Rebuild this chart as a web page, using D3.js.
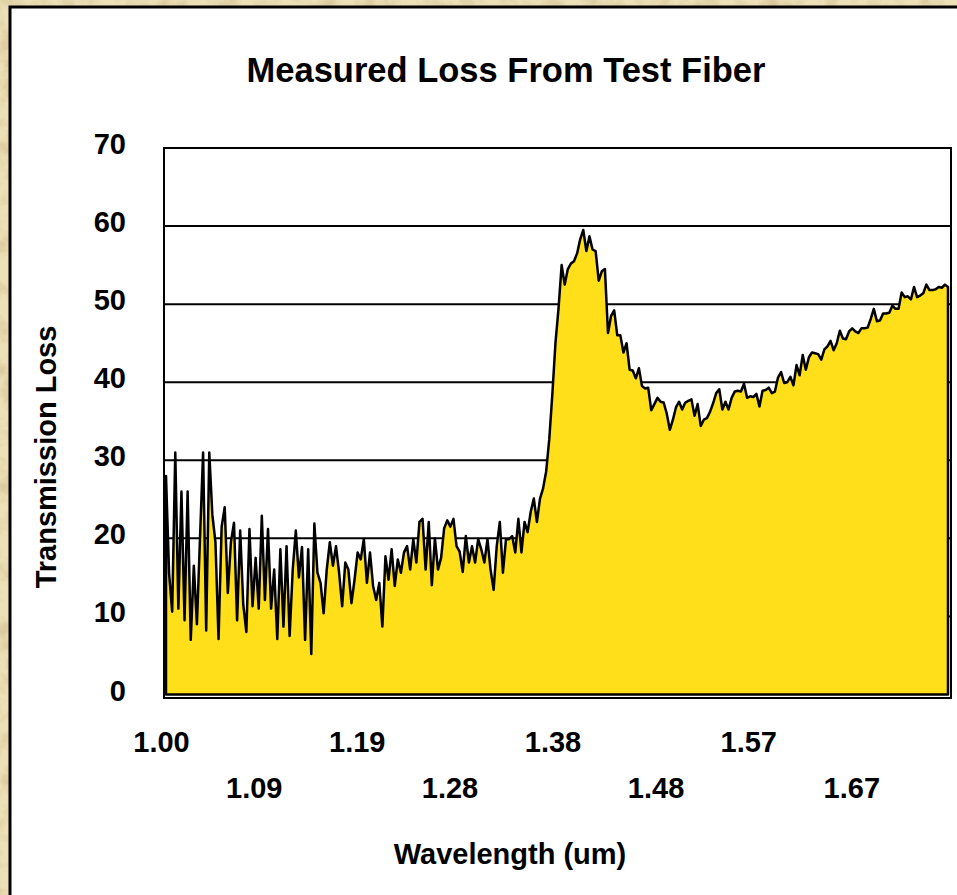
<!DOCTYPE html>
<html>
<head>
<meta charset="utf-8">
<script src="https://cdn.jsdelivr.net/npm/d3@7"></script>
<style>
    html, body { margin: 0; padding: 0; background: #e6d4a4; }
    svg { display: block; font-family: "Liberation Sans", Arial, sans-serif; font-weight: bold; }
</style>
</head>
<body>
<div id="chart"></div>
<script>
// wavelength sampling of the trace (um)
const wlStart = 1.00;
const wlStep = 0.003;

// measured transmission loss, one value per wavelength sample
const loss = [
    28, 15.5, 10.6, 31, 11, 26, 9.5, 26, 7, 16.5,
    9, 20, 31, 8.2, 31, 23, 19.5, 7.1, 21.5, 24,
    13, 19.5, 22, 9.5, 21, 11.5, 8, 21.2, 11.3, 17.5,
    11, 22.9, 12.1, 21.2, 11, 16, 7.1, 18.6, 8.7, 19,
    7.5, 16, 21, 15, 18.9, 7, 18.6, 5.2, 21.9, 15.6,
    14.3, 10.4, 16, 19.5, 16.5, 19, 15.6, 11.3, 16.9, 16,
    11.7, 14.7, 18.2, 17.3, 19.9, 14.3, 18.2, 13.9, 12.1, 14.3,
    8.7, 17.7, 14.7, 18.6, 13.9, 17.3, 15.6, 18.2, 19, 16,
    19.9, 16.9, 22.1, 22.5, 16, 22.1, 14, 20, 16, 17.5,
    21.3, 22.3, 21.5, 22.5, 19, 18.3, 15.7, 20.3, 16.9, 19,
    16.9, 19.9, 18.6, 16.9, 19.9, 16, 13.4, 19, 22.1, 15.6,
    19.9, 19.9, 20.3, 18.2, 22.5, 18.2, 22.1, 20.8, 23.4, 25.1,
    22.1, 25.1, 26.4, 28.6, 32.7, 38.5, 45, 49.5, 55, 52.5,
    54.5, 55.2, 55.5, 56.5, 58.3, 59.5, 56.8, 58.7, 57, 56.8,
    53, 54.2, 54.5, 46.3, 48.5, 49.2, 46, 46, 43.8, 45,
    41.6, 41.5, 40.5, 41.8, 39.5, 39.2, 39.3, 36.4, 37.2, 38,
    37.5, 37.4, 36, 33.9, 35.2, 36.8, 37.5, 36.5, 37.4, 37.6,
    37.8, 35.7, 37.2, 34.4, 35.2, 35.4, 36.2, 37.3, 38.6, 39.1,
    36.5, 37.5, 36.5, 38, 38.8, 38.9, 38.8, 39.8, 38, 38.2,
    38.1, 38.5, 36.9, 38.9, 39, 39.3, 38.6, 38.8, 40.6, 41.3,
    39.9, 40, 40.7, 39.6, 42.2, 40.9, 43.5, 41.6, 43.2, 43.8,
    43.7, 43.6, 42.9, 44.2, 44.6, 45.3, 44.1, 45, 46.6, 45.6,
    45.5, 46.5, 46.9, 46.5, 46.3, 46.9, 46.9, 47, 48.1, 49.4,
    47.8, 47.9, 48.8, 48.8, 48.9, 49.8, 49.4, 49.4, 51.5, 50.9,
    51, 50.6, 52.2, 50.9, 51.1, 51.4, 52.5, 51.8, 51.8, 51.9,
    52.2, 52.1, 52.5, 52.2
];

// axis ticks
const yTicks = [0, 10, 20, 30, 40, 50, 60, 70];
const gridValues = [10, 20, 30, 40, 50, 60];
const xTickValues = [1.00, 1.09, 1.19, 1.28, 1.38, 1.48, 1.57, 1.67];
const xTickLabels = ["1.00", "1.09", "1.19", "1.28", "1.38", "1.48", "1.57", "1.67"];

class LossChart {
    constructor(parentContainer) {
        this.parentContainer = parentContainer;
        this.width = 957;
        this.height = 895;
        this.data = loss.map((v, i) => ({ wl: wlStart + i * wlStep, v: v }));
        this.initVis();
    }

    initVis() {
        let vis = this;

        vis.svg = d3.select("#" + vis.parentContainer)
            .append("svg")
            .attr("width", vis.width)
            .attr("height", vis.height);

        // parchment texture behind the slide panel
        let defs = vis.svg.append("defs");
        let paper = defs.append("filter").attr("id", "paper")
            .attr("x", 0).attr("y", 0).attr("width", "100%").attr("height", "100%");
        paper.append("feTurbulence")
            .attr("type", "fractalNoise")
            .attr("baseFrequency", 0.05)
            .attr("numOctaves", 4)
            .attr("seed", 7);
        paper.append("feColorMatrix")
            .attr("type", "matrix")
            .attr("values", "0 0 0 0 0.62  0 0 0 0 0.5  0 0 0 0 0.26  1.6 0 0 0 -0.7");

        vis.svg.append("rect")
            .attr("width", vis.width).attr("height", vis.height)
            .attr("fill", "#eddfb6");
        vis.svg.append("rect")
            .attr("width", vis.width).attr("height", vis.height)
            .attr("filter", "url(#paper)");

        // white panel, runs off the right and bottom edges
        vis.svg.append("rect")
            .attr("x", 10).attr("y", 7)
            .attr("width", 1000).attr("height", 1000)
            .attr("fill", "#fff")
            .attr("stroke", "#000")
            .attr("stroke-width", 3);

        // scales
        vis.x = d3.scaleLinear()
            .domain([wlStart, wlStart + (loss.length - 1) * wlStep])
            .range([166, 948]);

        vis.y = d3.scaleLinear()
            .domain([0, 70])
            .range([694.5, 148]);

        // gridlines sit behind the area
        vis.svg.selectAll(".grid")
            .data(gridValues)
            .enter()
            .append("line")
            .attr("class", "grid")
            .attr("x1", 164).attr("x2", 951)
            .attr("y1", d => vis.y(d)).attr("y2", d => vis.y(d))
            .attr("stroke", "#000")
            .attr("stroke-width", 2);

        let area = d3.area()
            .x(d => vis.x(d.wl))
            .y0(vis.y(0))
            .y1(d => vis.y(d.v));

        vis.svg.append("path")
            .datum(vis.data)
            .attr("d", area)
            .attr("fill", "#fedf1a")
            .attr("stroke", "#000")
            .attr("stroke-width", 2.5)
            .attr("stroke-linejoin", "round");

        // plot frame
        vis.svg.append("rect")
            .attr("x", 164).attr("y", vis.y(70))
            .attr("width", 787).attr("height", 698 - vis.y(70))
            .attr("fill", "none")
            .attr("stroke", "#000")
            .attr("stroke-width", 2);

        // y axis labels
        let yAxis = d3.axisLeft(vis.y)
            .tickValues(yTicks)
            .tickSize(0)
            .tickPadding(38);

        vis.svg.append("g")
            .attr("transform", "translate(164,0)")
            .call(yAxis)
            .call(g => g.select(".domain").remove())
            .selectAll("text")
            .attr("dy", "0.19em")
            .style("font-size", "29px")
            .style("font-weight", "bold")
            .style("font-family", "'Liberation Sans', Arial, sans-serif")
            .attr("fill", "#000");

        // x axis labels, staggered over two rows
        let xAxis = d3.axisBottom(vis.x)
            .tickValues(xTickValues)
            .tickFormat((d, i) => xTickLabels[i])
            .tickSize(0);

        vis.svg.append("g")
            .attr("transform", "translate(-5,0)")
            .call(xAxis)
            .call(g => g.select(".domain").remove())
            .selectAll("text")
            .attr("y", (d, i) => i % 2 === 0 ? 752 : 798)
            .attr("dy", 0)
            .style("font-size", "29px")
            .style("font-weight", "bold")
            .style("font-family", "'Liberation Sans', Arial, sans-serif")
            .attr("fill", "#000");

        // titles
        vis.svg.append("text")
            .attr("x", 506).attr("y", 82)
            .attr("text-anchor", "middle")
            .style("font-size", "34.5px")
            .text("Measured Loss From Test Fiber");

        vis.svg.append("text")
            .attr("x", 510).attr("y", 864)
            .attr("text-anchor", "middle")
            .style("font-size", "29px")
            .text("Wavelength (um)");

        vis.svg.append("text")
            .attr("transform", "translate(56,457) rotate(-90)")
            .attr("text-anchor", "middle")
            .style("font-size", "29px")
            .text("Transmission Loss");
    }
}

new LossChart("chart");
</script>
</body>
</html>
